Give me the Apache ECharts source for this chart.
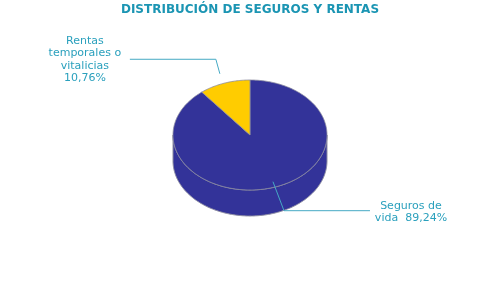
<!DOCTYPE html>
<html><head><meta charset="utf-8">
<script src="https://cdn.jsdelivr.net/npm/echarts@6/dist/echarts.min.js"></script>
<style>html,body{margin:0;padding:0;background:#fff}#c{width:500px;height:300px}</style>
</head><body><div id="c"></div>
<script>
var categories = ['Seguros de\nvida  89,24%', 'Rentas\ntemporales o\nvitalicias\n10,76%'];
var values = [89.24, 10.76];
var colors = ['#333399', '#FFCC00'];

var CX = 250, CY = 135, RX = 77, RY = 55, DEPTH = 26;
var total = values.reduce(function (a, b) { return a + b; }, 0);
function startAngle(i) { var s = 0; for (var k = 0; k < i; k++) s += values[k]; return s / total * 360; }
function endAngle(i) { return startAngle(i) + values[i] / total * 360; }
function pt(deg, k, dy) { var r = deg * Math.PI / 180; k = k || 1; return [CX + RX * k * Math.sin(r), CY - RY * k * Math.cos(r) + (dy || 0)]; }
var STROKE = '#8c8ca0';
var TEXTC = '#2aa0bd', LINEC = '#45a9c4';

function renderSide(params, api) {
  var i = params.dataIndex;
  var a = Math.max(startAngle(i), 90), b = Math.min(endAngle(i), 270);
  if (b <= a) return null;
  var top = [], bot = [];
  for (var d = a; d <= b + 0.001; d += 1) { top.push(pt(Math.min(d, b))); }
  for (var d2 = b; d2 >= a - 0.001; d2 -= 1) { bot.push(pt(Math.max(d2, a), 1, DEPTH)); }
  return { type: 'polygon', shape: { points: top.concat(bot) },
    style: { fill: colors[i], stroke: STROKE, lineWidth: 1 } };
}
function renderTop(params, api) {
  var i = params.dataIndex;
  var a = startAngle(i), b = endAngle(i);
  var pts = [[CX, CY]];
  for (var d = a; d < b; d += 1) pts.push(pt(d));
  pts.push(pt(b));
  var mid = (a + b) / 2;
  var children = [{ type: 'polygon', shape: { points: pts },
    style: { fill: colors[i], stroke: STROKE, lineWidth: 0.8 } }];
  var linePts, textPos;
  if (Math.cos(mid * Math.PI / 180) > 0) {
    var p0 = pt(mid, 1.18);
    var p1 = [p0[0] - 4, p0[1] - 14.5];
    var p2 = [p1[0] - 86, p1[1]];
    linePts = [p0, p1, p2];
    textPos = [p2[0] - 45, p2[1] + 0.5];
  } else {
    var q0 = pt(mid, 0.9);
    var q1 = [q0[0] + 11, q0[1] + 29];
    var q2 = [q1[0] + 86, q1[1]];
    linePts = [q0, q1, q2];
    textPos = [q2[0] + 41, q2[1] + 1.5];
  }
  children.push({ type: 'polyline', shape: { points: linePts }, style: { stroke: LINEC, lineWidth: 1, fill: null } });
  children.push({ type: 'text', x: textPos[0], y: textPos[1], style: {
    text: categories[i], fill: TEXTC, font: '11px "DejaVu Sans"', align: 'center', verticalAlign: 'middle', lineHeight: 12.5 } });
  return { type: 'group', children: children };
}

var chart = echarts.init(document.getElementById('c'), null, { renderer: 'canvas' });
chart.setOption({
  animation: false,
  title: { text: 'DISTRIBUCIÓN DE SEGUROS Y RENTAS', left: 'center', top: 4, padding: 0,
    textStyle: { fontFamily: 'DejaVu Sans', fontSize: 12, fontWeight: 'bold', color: '#1b95b3' } },
  series: [
    { type: 'custom', coordinateSystem: 'none', renderItem: renderSide, data: values, z: 1 },
    { type: 'custom', coordinateSystem: 'none', renderItem: renderTop, data: values, z: 2 }
  ]
});
</script></body></html>
